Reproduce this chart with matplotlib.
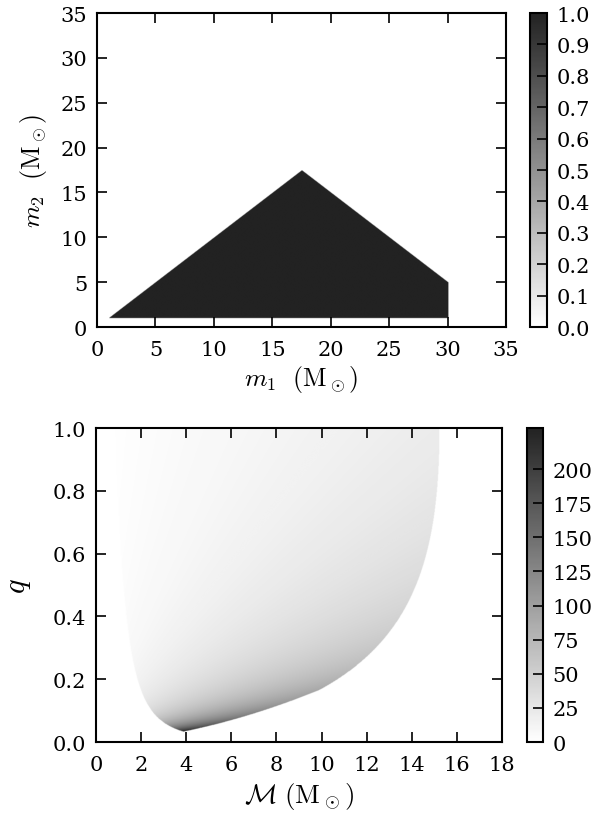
import numpy as np
import matplotlib
matplotlib.use('Agg')
import matplotlib.pyplot as plt
from matplotlib.path import Path
from matplotlib.colors import LinearSegmentedColormap

# prior region in (m1, m2), corners
m1_corners = [1.0, 17.5, 30.0, 30.0]
m2_corners = [1.0, 17.5, 5.0, 1.0]

m_ticks = [0, 5, 10, 15, 20, 25, 30, 35]
top_cbar_ticks = [0.0, 0.1, 0.2, 0.3, 0.4, 0.5, 0.6, 0.7, 0.8, 0.9, 1.0]
mc_ticks = [0, 2, 4, 6, 8, 10, 12, 14, 16, 18]
q_ticks = [0.0, 0.2, 0.4, 0.6, 0.8, 1.0]
bot_cbar_ticks = [0, 25, 50, 75, 100, 125, 150, 175, 200]

plt.rcParams['font.family'] = ['DejaVu Serif']
plt.rcParams['mathtext.fontset'] = 'cm'
plt.rcParams['font.size'] = 15
plt.rcParams['axes.linewidth'] = 1.5

# linear grey ramp, white to dark ink grey
cmap = LinearSegmentedColormap.from_list('grey_ink', ['#ffffff', '#222222'])

verts = [[a, b] for a, b in zip(m1_corners, m2_corners)]
region = Path(verts + [verts[0]])

fig = plt.figure(figsize=(5.92, 8.2), dpi=100)

# top panel: uniform prior in m1, m2
n = 700
g1 = np.linspace(0, 35, n)
g2 = np.linspace(0, 35, n)
M1, M2 = np.meshgrid(g1, g2)
inside = region.contains_points(np.column_stack([M1.ravel(), M2.ravel()])).reshape(M1.shape)
prior = inside.astype(float)

ax1 = fig.add_axes([0.1639, 0.6, 0.6909, 0.3829])
im1 = ax1.imshow(prior, origin='lower', extent=[0, 35, 0, 35], cmap=cmap,
                 vmin=0, vmax=1, aspect='auto', interpolation='bilinear')
ax1.set_xlim(0, 35)
ax1.set_ylim(0, 35)
ax1.set_xticks(m_ticks)
ax1.set_yticks(m_ticks)
ax1.set_xlabel(r'$m_1\ \ (\mathrm{M}_\odot)$', fontsize=18.5, labelpad=3)
ax1.set_ylabel(r'$m_2\ \ (\mathrm{M}_\odot)$', fontsize=18.5, labelpad=8)

cax1 = fig.add_axes([0.8953, 0.6, 0.0287, 0.3829])
cb1 = fig.colorbar(im1, cax=cax1, ticks=top_cbar_ticks)
cb1.ax.set_yticklabels(['%.1f' % t for t in top_cbar_ticks])

# bottom panel: same prior mapped to chirp mass and mass ratio
mc = np.linspace(0, 18, 900)
q = np.linspace(0.0005, 1, 900)
MC, Q = np.meshgrid(mc, q)
mm1 = MC * (1 + Q) ** 0.2 * Q ** -0.6
mm2 = Q * mm1
inside2 = region.contains_points(np.column_stack([mm1.ravel(), mm2.ravel()])).reshape(MC.shape)
jac = MC * (1 + Q) ** 0.4 * Q ** -1.2
dens = np.where(inside2, jac, 0.0)

ax2 = fig.add_axes([0.1622, 0.0939, 0.6858, 0.3829])
im2 = ax2.imshow(dens, origin='lower', extent=[0, 18, 0, 1], cmap=cmap,
                 vmin=0, vmax=dens.max(), aspect='auto', interpolation='bilinear')
ax2.set_xlim(0, 18)
ax2.set_ylim(0, 1)
ax2.set_xticks(mc_ticks)
ax2.set_yticks(q_ticks)
ax2.set_yticklabels(['%.1f' % t for t in q_ticks])
ax2.set_xlabel(r'$\mathcal{M}\ (\mathrm{M}_\odot)$', fontsize=19.5, labelpad=5)
ax2.set_ylabel(r'$q$', fontsize=22, labelpad=14)

cax2 = fig.add_axes([0.8902, 0.0939, 0.027, 0.3829])
cb2 = fig.colorbar(im2, cax=cax2, ticks=bot_cbar_ticks)

for ax in [ax1, ax2]:
    ax.tick_params(direction='in', top=True, right=True, length=7, width=1.2)
    ax.tick_params(axis='x', pad=9)
    ax.tick_params(axis='y', pad=7)
for cb in [cb1, cb2]:
    cb.ax.tick_params(direction='in', length=7, width=1.2, pad=7)
    cb.outline.set_linewidth(1.5)

plt.savefig('out.png', dpi=100)
